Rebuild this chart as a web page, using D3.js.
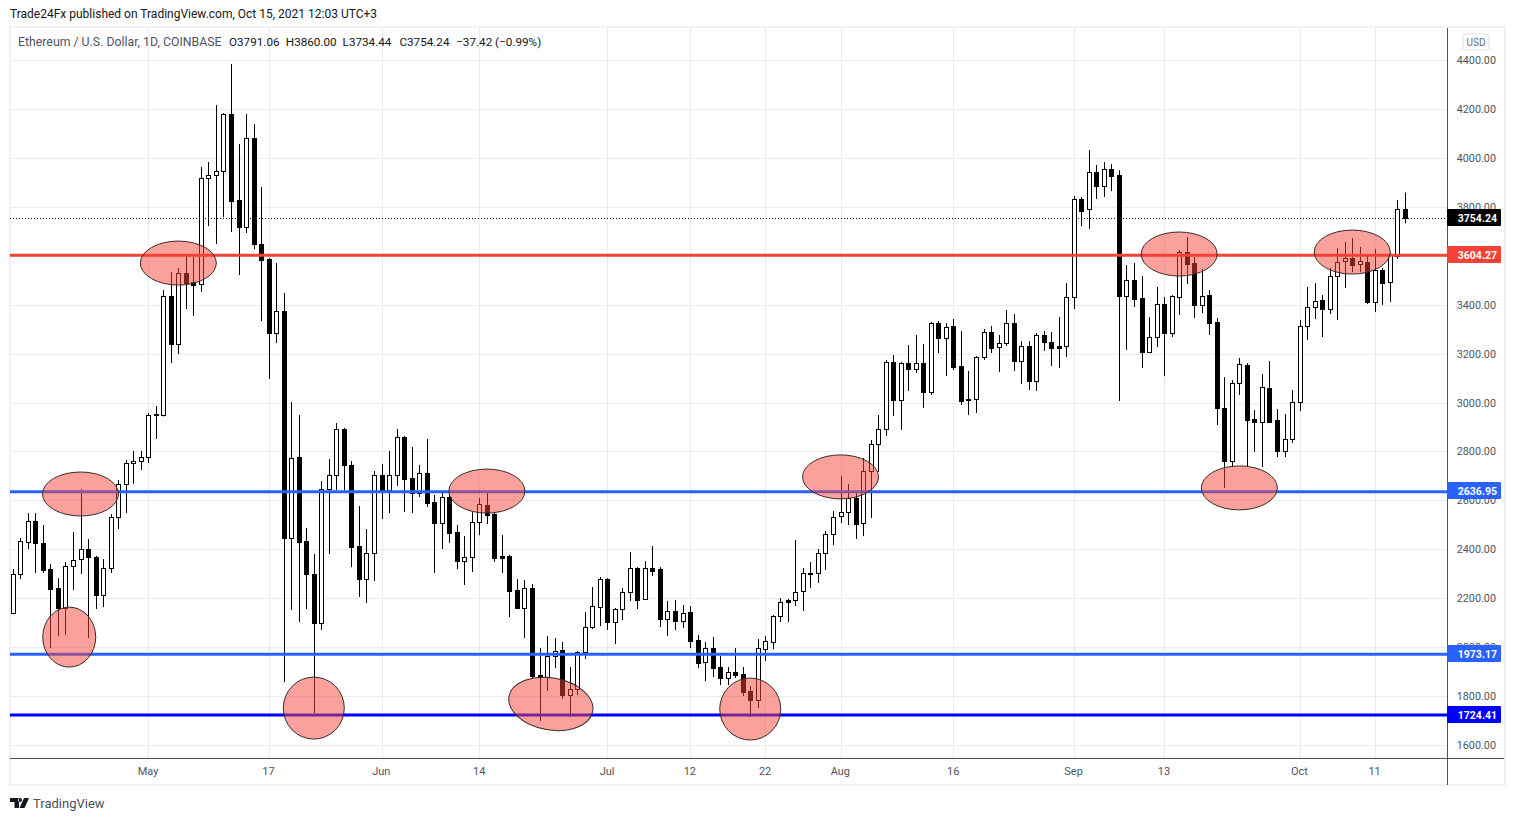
<!DOCTYPE html>
<html>
<head>
<meta charset="utf-8">
<title>ETHUSD</title>
<script src="https://cdn.jsdelivr.net/npm/d3@7"></script>
<style>
    html, body { margin: 0; padding: 0; background: #fff; overflow: hidden; }
    svg { display: block; }
    text { font-family: Roboto, sans-serif; }
</style>
</head>
<body>
<svg id="chart" width="1515" height="821"></svg>
<script>
// Daily candles, first one is 13 Apr 2021
var firstDay = new Date(Date.UTC(2021, 3, 13));

var openPrices = [
    2142, 2301, 2432, 2518, 2428, 2321, 2244, 2162, 2333, 2362,
    2403, 2370, 2215, 2325, 2534, 2669, 2755, 2763, 2779, 2955,
    2951, 3437, 3241, 3531, 3495, 3486, 3920, 3932, 3948, 4181,
    3830, 3719, 4083, 3650, 3589, 3286, 3376, 2448, 2779, 2436,
    2301, 2101, 2648, 2706, 2894, 2747, 2415, 2280, 2387, 2706,
    2644, 2706, 2861, 2693, 2632, 2714, 2595, 2509, 2616, 2473,
    2354, 2370, 2514, 2583, 2546, 2375, 2375, 2235, 2162, 2244,
    1888, 1880, 1966, 1990, 1806, 1831, 1982, 2084, 2166, 2280,
    2105, 2158, 2227, 2325, 2199, 2325, 2321, 2117, 2150, 2109,
    2146, 2031, 1941, 1998, 1921, 1876, 1900, 1892, 1823, 1786,
    1994, 2023, 2129, 2195, 2195, 2231, 2301, 2305, 2387, 2464,
    2538, 2554, 2612, 2509, 2722, 2832, 2894, 3168, 3012, 3163,
    3139, 3163, 3045, 3327, 3266, 3315, 3151, 3012, 3016, 3188,
    3290, 3229, 3245, 3327, 3172, 3233, 3090, 3278, 3249, 3233,
    3233, 3433, 3834, 3793, 3944, 3887, 3956, 3932, 3437, 3503,
    3429, 3208, 3270, 3405, 3286, 3433, 3617, 3572, 3401, 3441,
    3331, 2980, 2763, 3082, 3155, 2935, 2922, 3061, 2931, 2804,
    2853, 3004, 3315, 3392, 3421, 3384, 3519, 3580, 3593, 3568,
    3576, 3413, 3544, 3495, 3601, 3791.06
];
var highPrices = [
    2321, 2448, 2550, 2550, 2501, 2342, 2284, 2350, 2473, 2648,
    2444, 2375, 2362, 2546, 2685, 2767, 2804, 2804, 2959, 2988,
    3462, 3535, 3552, 3601, 3597, 3965, 3985, 4218, 4185, 4386,
    4059, 4181, 4140, 3883, 3593, 3572, 3450, 3004, 2951, 2489,
    2383, 2681, 2771, 2918, 2898, 2763, 2579, 2485, 2722, 2751,
    2804, 2894, 2865, 2820, 2747, 2853, 2624, 2632, 2632, 2501,
    2456, 2554, 2612, 2632, 2554, 2460, 2379, 2280, 2276, 2260,
    1998, 2047, 2039, 2023, 1921, 1986, 2146, 2248, 2289, 2284,
    2162, 2244, 2391, 2329, 2354, 2415, 2329, 2191, 2195, 2174,
    2170, 2052, 2023, 2043, 1966, 1921, 1998, 1921, 1843, 2035,
    2047, 2133, 2203, 2199, 2440, 2325, 2350, 2403, 2477, 2558,
    2702, 2669, 2632, 2775, 2849, 2951, 3176, 3196, 3168, 3237,
    3278, 3241, 3331, 3335, 3327, 3343, 3294, 3131, 3192, 3302,
    3315, 3278, 3380, 3364, 3253, 3253, 3286, 3294, 3290, 3351,
    3490, 3846, 3842, 4034, 3973, 3985, 3977, 3952, 3564, 3572,
    3519, 3351, 3474, 3433, 3441, 3625, 3678, 3597, 3548, 3462,
    3347, 3106, 3094, 3184, 3163, 2971, 3118, 3172, 2976, 2955,
    3053, 3339, 3474, 3490, 3441, 3552, 3633, 3658, 3674, 3638,
    3601, 3629, 3552, 3613, 3830, 3860
];
var lowPrices = [
    2137, 2280, 2403, 2305, 2305, 1998, 2047, 2052, 2235, 2301,
    2039, 2158, 2166, 2305, 2485, 2550, 2669, 2726, 2755, 2853,
    2945, 3163, 3200, 3384, 3356, 3454, 3723, 3650, 3760, 3699,
    3523, 3695, 3629, 3335, 3098, 3245, 1859, 2154, 2105, 2158,
    1733, 2072, 2383, 2644, 2644, 2329, 2207, 2182, 2272, 2526,
    2550, 2661, 2554, 2550, 2616, 2575, 2305, 2403, 2428, 2321,
    2256, 2309, 2460, 2505, 2350, 2305, 2125, 2162, 2039, 1876,
    1700, 1823, 1916, 1790, 1716, 1806, 1953, 2076, 2088, 2072,
    2015, 2113, 2191, 2158, 2195, 2293, 2084, 2047, 2072, 2080,
    1998, 1916, 1863, 1880, 1847, 1847, 1876, 1802, 1716, 1753,
    1945, 1994, 2105, 2105, 2170, 2150, 2244, 2264, 2317, 2419,
    2509, 2501, 2444, 2456, 2530, 2718, 2865, 2947, 2890, 3049,
    3123, 2980, 3033, 3204, 3110, 3135, 2992, 2951, 2959, 3176,
    3204, 3127, 3233, 3131, 3078, 3053, 3049, 3213, 3151, 3143,
    3188, 3384, 3723, 3711, 3834, 3842, 3866, 3008, 3217, 3392,
    3143, 3204, 3229, 3110, 3270, 3360, 3486, 3347, 3368, 3278,
    2910, 2653, 2738, 3033, 2738, 2800, 2738, 2922, 2779, 2779,
    2837, 2967, 3257, 3343, 3270, 3364, 3339, 3470, 3535, 3535,
    3405, 3372, 3401, 3413, 3589, 3734.44
];
var closePrices = [
    2301, 2436, 2518, 2428, 2317, 2239, 2162, 2333, 2358, 2403,
    2370, 2215, 2325, 2534, 2669, 2755, 2763, 2779, 2951, 2951,
    3437, 3241, 3531, 3490, 3482, 3920, 3932, 3948, 4181, 3826,
    3719, 4083, 3650, 3584, 3286, 3376, 2448, 2775, 2432, 2301,
    2101, 2648, 2706, 2894, 2747, 2411, 2280, 2387, 2706, 2644,
    2706, 2861, 2689, 2632, 2714, 2591, 2509, 2616, 2469, 2354,
    2370, 2514, 2587, 2542, 2366, 2366, 2231, 2162, 2244, 1884,
    1880, 1966, 1986, 1806, 1831, 1982, 2084, 2170, 2280, 2105,
    2158, 2227, 2325, 2195, 2325, 2313, 2117, 2150, 2109, 2142,
    2027, 1937, 1998, 1916, 1876, 1900, 1888, 1819, 1786, 1998,
    2027, 2129, 2187, 2187, 2227, 2305, 2305, 2387, 2464, 2534,
    2554, 2612, 2505, 2722, 2832, 2894, 3168, 3012, 3163, 3139,
    3163, 3045, 3327, 3266, 3311, 3147, 3008, 3016, 3188, 3290,
    3225, 3245, 3327, 3172, 3233, 3090, 3278, 3249, 3225, 3225,
    3433, 3834, 3785, 3944, 3887, 3956, 3928, 3437, 3503, 3425,
    3208, 3270, 3405, 3286, 3437, 3617, 3568, 3401, 3437, 3327,
    2980, 2763, 3082, 3159, 2931, 2922, 3065, 2922, 2804, 2853,
    3004, 3315, 3392, 3417, 3384, 3519, 3576, 3593, 3564, 3580,
    3413, 3544, 3490, 3605, 3793, 3754.24
];

// Axis ticks
var priceTicks = [1600, 1800, 2000, 2200, 2400, 2600, 2800, 3000, 3200, 3400, 3600, 3800, 4000, 4200, 4400];
var timeTickDays = ["2021-05-01", "2021-05-17", "2021-06-01", "2021-06-14", "2021-07-01", "2021-07-12", "2021-07-22", "2021-08-01", "2021-08-16", "2021-09-01", "2021-09-13", "2021-10-01", "2021-10-11"];
var timeTickLabels = ["May", "17", "Jun", "14", "Jul", "12", "22", "Aug", "16", "Sep", "13", "Oct", "11"];

// Horizontal levels drawn on the chart
var levelPrices = [3604.27, 2636.95, 1973.17, 1724.41];
var levelLabels = ["3604.27", "2636.95", "1973.17", "1724.41"];
var levelColors = ["#f44336", "#2962ff", "#2962ff", "#0000ff"];

var lastPrice = 3754.24;

// Marked areas: the candle they sit on and the price of their centre
var markDays = [22, 9, 7.5, 40, 63, 71.5, 98, 110, 155, 163, 178];
var markPrices = [3572, 2628, 2043, 1753, 2640, 1770, 1749, 2698, 3609, 2653, 3617];
var markKinds = ["wide", "wide", "tall", "round", "wide", "tilted", "round", "wide", "wide", "wide", "wide"];

var legendValues = ["O3791.06", "H3860.00", "L3734.44", "C3754.24", "\u221237.42 (\u22120.99%)"];

var plotLeft = 10, plotRight = 1447, plotTop = 28, plotBottom = 758;

var svg = d3.select("#chart");

var parseDay = d3.utcParse("%Y-%m-%d");
var lastDay = d3.utcDay.offset(firstDay, closePrices.length - 1);

var x = d3.scaleUtc().domain([firstDay, lastDay]).range([13.3, 1405.4]);
var y = d3.scaleLinear().domain([1600, 4400]).range([745.5, 60.5]);

function dayX(i) {
    return x(new Date(firstDay.getTime() + i * 86400000));
}

// Frame around the chart
svg.append("rect")
    .attr("x", 10).attr("y", 27)
    .attr("width", 1495).attr("height", 758)
    .attr("fill", "none")
    .attr("stroke", "#eef1f6")
    .attr("stroke-width", 2);

// Grid
svg.append("g").selectAll("line")
    .data(priceTicks)
    .enter().append("line")
    .attr("x1", plotLeft).attr("x2", plotRight)
    .attr("y1", d => Math.floor(y(d)) + 0.5).attr("y2", d => Math.floor(y(d)) + 0.5)
    .attr("stroke", "#e4edf3");

svg.append("g").selectAll("line")
    .data(timeTickDays)
    .enter().append("line")
    .attr("x1", d => Math.floor(x(parseDay(d))) + 0.5).attr("x2", d => Math.floor(x(parseDay(d))) + 0.5)
    .attr("y1", plotTop).attr("y2", plotBottom)
    .attr("stroke", "#e4edf3");

// Dotted line at the last price
svg.append("line")
    .attr("x1", plotLeft).attr("x2", plotRight)
    .attr("y1", Math.floor(y(lastPrice)) + 0.5).attr("y2", Math.floor(y(lastPrice)) + 0.5)
    .attr("stroke", "#000")
    .attr("stroke-dasharray", "1 2");

// Candles
var candles = svg.append("g").selectAll("g")
    .data(closePrices)
    .enter().append("g");

candles.append("line")
    .attr("x1", (d, i) => Math.floor(dayX(i)) + 0.5).attr("x2", (d, i) => Math.floor(dayX(i)) + 0.5)
    .attr("y1", (d, i) => y(highPrices[i])).attr("y2", (d, i) => y(lowPrices[i]))
    .attr("stroke", "#000");

candles.append("rect")
    .attr("x", (d, i) => Math.floor(dayX(i)) - 1.5)
    .attr("y", (d, i) => Math.round(y(Math.max(openPrices[i], d))) + 0.5)
    .attr("width", 4)
    .attr("height", (d, i) => Math.max(1, Math.round(Math.abs(y(openPrices[i]) - y(d)))))
    .attr("fill", (d, i) => d >= openPrices[i] ? "#fff" : "#000")
    .attr("stroke", "#000");

// Levels
svg.append("g").selectAll("line")
    .data(levelPrices)
    .enter().append("line")
    .attr("x1", plotLeft).attr("x2", plotRight)
    .attr("y1", d => y(d)).attr("y2", d => y(d))
    .attr("stroke", (d, i) => levelColors[i])
    .attr("stroke-width", 3);

// Marked areas
svg.append("g").selectAll("ellipse")
    .data(markDays)
    .enter().append("ellipse")
    .attr("rx", (d, i) => markKinds[i] == "wide" ? 38 : markKinds[i] == "tilted" ? 42.5 : markKinds[i] == "tall" ? 26.5 : 30.5)
    .attr("ry", (d, i) => markKinds[i] == "wide" ? 22 : markKinds[i] == "tilted" ? 26 : markKinds[i] == "tall" ? 30 : 31)
    .attr("transform", (d, i) => "translate(" + (dayX(d) - 0.5) + "," + y(markPrices[i]) + ")" + (markKinds[i] == "tilted" ? " rotate(10)" : ""))
    .attr("fill", "#f44336")
    .attr("fill-opacity", 0.5)
    .attr("stroke", "#3a2a2a");

// Axis lines
svg.append("line")
    .attr("x1", plotLeft).attr("x2", 1504)
    .attr("y1", plotBottom + 0.5).attr("y2", plotBottom + 0.5)
    .attr("stroke", "#50535e");
svg.append("line")
    .attr("x1", plotRight + 0.5).attr("x2", plotRight + 0.5)
    .attr("y1", plotTop).attr("y2", 785)
    .attr("stroke", "#50535e");

// Price labels
svg.append("g").selectAll("text")
    .data(priceTicks)
    .enter().append("text")
    .attr("x", 1496).attr("y", d => Math.floor(y(d)) + 4)
    .attr("text-anchor", "end")
    .attr("font-size", 10.8)
    .attr("fill", "#50535e")
    .text(d => d3.format(".2f")(d));

// Time labels
svg.append("g").selectAll("text")
    .data(timeTickDays)
    .enter().append("text")
    .attr("x", d => x(parseDay(d)) - 0.7).attr("y", 775)
    .attr("text-anchor", "middle")
    .attr("font-size", 11)
    .attr("fill", "#50535e")
    .text((d, i) => timeTickLabels[i]);

// Price tags on the axis
function priceTag(price, label, color) {
    svg.append("rect")
        .attr("x", plotRight).attr("y", Math.floor(y(price)) - 9)
        .attr("width", 54).attr("height", 17)
        .attr("rx", 1)
        .attr("fill", color);
    svg.append("text")
        .attr("x", 1497).attr("y", Math.floor(y(price)) + 4)
        .attr("text-anchor", "end")
        .attr("font-size", 10.5)
        .attr("font-weight", 700)
        .attr("fill", "#fff")
        .text(label);
}

levelPrices.forEach((p, i) => priceTag(p, levelLabels[i], levelColors[i]));
priceTag(lastPrice, d3.format(".2f")(lastPrice), "#000");

// USD button
svg.append("rect")
    .attr("x", 1463).attr("y", 34)
    .attr("width", 26).attr("height", 16)
    .attr("rx", 3)
    .attr("fill", "#fff")
    .attr("stroke", "#e0e3eb");
svg.append("text")
    .attr("x", 1476).attr("y", 46)
    .attr("text-anchor", "middle")
    .attr("font-size", 10)
    .attr("fill", "#6a6d78")
    .text("USD");

// Header and legend
svg.append("text")
    .attr("x", 10).attr("y", 18)
    .attr("font-size", 12)
    .attr("fill", "#131722")
    .text("Trade24Fx published on TradingView.com, Oct 15, 2021 12:03 UTC+3");

svg.append("text")
    .attr("x", 18).attr("y", 46)
    .attr("font-size", 12.3)
    .attr("fill", "#50535e")
    .text("Ethereum / U.S. Dollar, 1D, COINBASE");

svg.append("g").selectAll("text")
    .data(legendValues)
    .enter().append("text")
    .attr("x", (d, i) => 229 + i * 56.8)
    .attr("y", 46)
    .attr("font-size", 11.7)
    .attr("fill", "#131722")
    .text(d => d);

// TradingView mark
svg.append("path")
    .attr("d", "M10 798h9v10h-4.5v-6H10zM20 802a2 2 0 1 0 0-4 2 2 0 0 0 0 4zM24 798h5l-4.5 10h-5z")
    .attr("fill", "#131722");
svg.append("text")
    .attr("x", 33).attr("y", 808)
    .attr("font-size", 13)
    .attr("fill", "#4a4e5a")
    .text("TradingView");
</script>
</body>
</html>
